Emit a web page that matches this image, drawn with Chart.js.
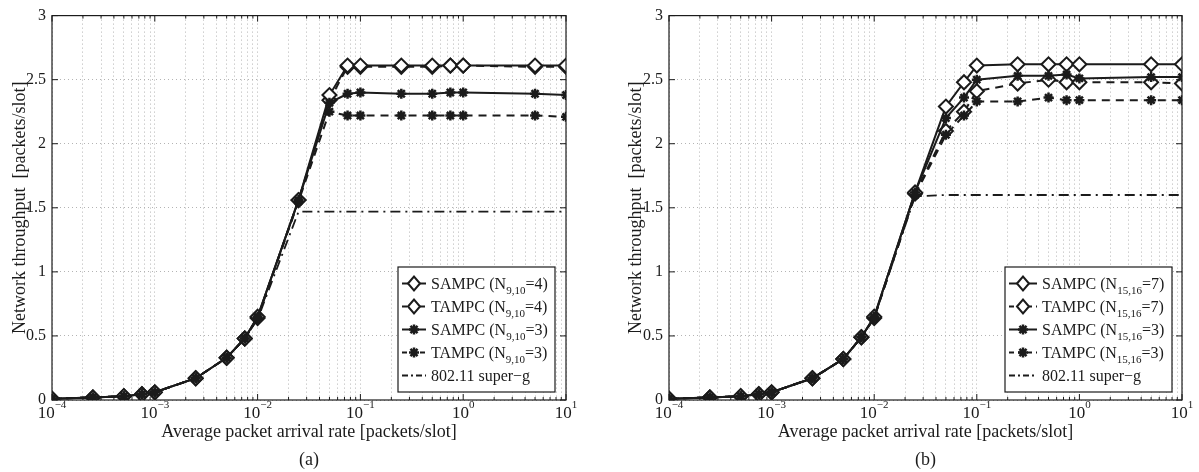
<!DOCTYPE html>
<html lang="en">
<head>
<meta charset="UTF-8">
<title>Network throughput vs packet arrival rate</title>
<style>
  body { margin: 0; background: #fff; }
  .panel { position: absolute; top: 0; height: 472px; }
  #panelA { left: 0; width: 600px; }
  #panelB { left: 600px; width: 599px; }
</style>
<script src="https://cdn.jsdelivr.net/npm/chart.js"></script>
</head>
<body>
<div class="panel" id="panelA"><canvas id="chartA" width="600" height="472"></canvas></div>
<div class="panel" id="panelB"><canvas id="chartB" width="599" height="472"></canvas></div>

<script>
  // average packet arrival rate [packets/slot]
  const rates = [1e-4, 2.5e-4, 5e-4, 7.5e-4, 1e-3, 2.5e-3, 5e-3, 7.5e-3, 1e-2, 2.5e-2,
                 5e-2, 7.5e-2, 1e-1, 2.5e-1, 5e-1, 7.5e-1, 1, 5, 10];

  // panel (a) - N9,10
  const sampc4A = [0.01, 0.02, 0.03, 0.045, 0.06, 0.17, 0.33, 0.48, 0.65, 1.56, 2.38, 2.61, 2.61, 2.61, 2.61, 2.61, 2.61, 2.61, 2.61];
  const tampc4A = [0.01, 0.02, 0.03, 0.045, 0.06, 0.17, 0.33, 0.48, 0.64, 1.56, 2.34, 2.60, 2.60, 2.60, 2.60, 2.61, 2.61, 2.60, 2.60];
  const sampc3A = [0.01, 0.02, 0.03, 0.045, 0.06, 0.17, 0.33, 0.48, 0.65, 1.56, 2.32, 2.39, 2.40, 2.39, 2.39, 2.40, 2.40, 2.39, 2.38];
  const tampc3A = [0.01, 0.02, 0.03, 0.045, 0.06, 0.17, 0.33, 0.48, 0.64, 1.55, 2.25, 2.22, 2.22, 2.22, 2.22, 2.22, 2.22, 2.22, 2.21];
  const supergA = [0.01, 0.02, 0.03, 0.045, 0.06, 0.17, 0.33, 0.48, 0.63, 1.47, 1.47, 1.47, 1.47, 1.47, 1.47, 1.47, 1.47, 1.47, 1.47];

  // panel (b) - N15,16
  const sampc7B = [0.01, 0.02, 0.03, 0.045, 0.06, 0.17, 0.32, 0.49, 0.65, 1.62, 2.29, 2.48, 2.61, 2.62, 2.62, 2.62, 2.62, 2.62, 2.62];
  const tampc7B = [0.01, 0.02, 0.03, 0.045, 0.06, 0.17, 0.32, 0.49, 0.64, 1.61, 2.10, 2.25, 2.41, 2.47, 2.50, 2.48, 2.48, 2.48, 2.47];
  const sampc3B = [0.01, 0.02, 0.03, 0.045, 0.06, 0.17, 0.32, 0.49, 0.65, 1.62, 2.20, 2.36, 2.50, 2.53, 2.53, 2.54, 2.51, 2.52, 2.52];
  const tampc3B = [0.01, 0.02, 0.03, 0.045, 0.06, 0.17, 0.32, 0.49, 0.64, 1.60, 2.07, 2.22, 2.33, 2.33, 2.36, 2.34, 2.34, 2.34, 2.34];
  const supergB = [0.01, 0.02, 0.03, 0.045, 0.06, 0.17, 0.32, 0.49, 0.64, 1.59, 1.60, 1.60, 1.60, 1.60, 1.60, 1.60, 1.60, 1.60, 1.60];

  const yTicks = [0, 0.5, 1, 1.5, 2, 2.5, 3];
  const xDecades = [-4, -3, -2, -1, 0, 1];

  const SERIF = '"Liberation Serif", "Times New Roman", serif';
  const INK = '#1b1b1b';

  // marker shapes for the hand drawn legend (same look as the plot points)
  function drawMarker(ctx, style, x, y) {
    ctx.save();
    ctx.strokeStyle = INK;
    ctx.setLineDash([]);
    if (style === 'rectRot') {
      ctx.lineWidth = 2;
      ctx.fillStyle = '#fff';
      ctx.beginPath();
      ctx.moveTo(x - 6, y); ctx.lineTo(x, y - 7); ctx.lineTo(x + 6, y); ctx.lineTo(x, y + 7);
      ctx.closePath();
      ctx.fill(); ctx.stroke();
    } else if (style === 'star') {
      ctx.lineWidth = 2.5;
      ctx.beginPath();
      for (let k = 0; k < 4; k++) {
        const a = k * Math.PI / 4;
        ctx.moveTo(x - 5 * Math.cos(a), y - 5 * Math.sin(a));
        ctx.lineTo(x + 5 * Math.cos(a), y + 5 * Math.sin(a));
      }
      ctx.stroke();
    }
    ctx.restore();
  }

  function makeSets(hiS, hiT, loS, loT, sg, sub, nHi, nLo) {
    const base = { borderColor: INK, pointBorderColor: INK, borderWidth: 2, tension: 0 };
    return [
      { ...base, label: 'SAMPC (N' + sub + '=' + nHi + ')', data: hiS, borderDash: [],
        pointStyle: 'rectRot', pointRadius: 7, pointBorderWidth: 2, pointBackgroundColor: '#fff', order: 2 },
      { ...base, label: 'TAMPC (N' + sub + '=' + nHi + ')', data: hiT, borderDash: [8, 6],
        pointStyle: 'rectRot', pointRadius: 7, pointBorderWidth: 2, pointBackgroundColor: '#fff', order: 3 },
      { ...base, label: 'SAMPC (N' + sub + '=' + nLo + ')', data: loS, borderDash: [],
        pointStyle: 'star', pointRadius: 5, pointBorderWidth: 2.5, pointBackgroundColor: INK, order: 0 },
      { ...base, label: 'TAMPC (N' + sub + '=' + nLo + ')', data: loT, borderDash: [8, 6],
        pointStyle: 'star', pointRadius: 5, pointBorderWidth: 2.5, pointBackgroundColor: INK, order: 1 },
      { ...base, label: '802.11 super\u2212g', data: sg, borderDash: [10, 5, 2, 5], borderWidth: 1.8,
        pointRadius: 0, order: 4 }
    ];
  }

  // frame, inward ticks, x labels with exponents, titles and legend
  const panelDecor = {
    id: 'panelDecor',
    afterDraw(chart, args, o) {
      const { ctx, chartArea: a, scales: { x, y } } = chart;
      ctx.save();
      ctx.strokeStyle = INK;
      ctx.fillStyle = INK;
      ctx.lineWidth = 1.2;
      ctx.setLineDash([]);
      ctx.strokeRect(a.left, a.top, a.right - a.left, a.bottom - a.top);

      // ticks
      ctx.lineWidth = 1;
      ctx.beginPath();
      x.ticks.forEach(t => {
        const px = x.getPixelForValue(t.value);
        const len = Math.abs(Math.log10(t.value) - Math.round(Math.log10(t.value))) < 1e-6 ? 6 : 3;
        ctx.moveTo(px, a.bottom); ctx.lineTo(px, a.bottom - len);
        ctx.moveTo(px, a.top); ctx.lineTo(px, a.top + len);
      });
      yTicks.forEach(v => {
        const py = y.getPixelForValue(v);
        ctx.moveTo(a.left, py); ctx.lineTo(a.left + 6, py);
        ctx.moveTo(a.right, py); ctx.lineTo(a.right - 6, py);
      });
      ctx.stroke();

      // x tick labels 10^n
      xDecades.forEach(e => {
        const px = x.getPixelForValue(Math.pow(10, e));
        const exp = e < 0 ? '\u2212' + (-e) : String(e);
        ctx.font = '17px ' + SERIF;
        const w1 = ctx.measureText('10').width;
        ctx.font = '11px ' + SERIF;
        const w2 = ctx.measureText(exp).width;
        const left = px - (w1 + w2) / 2;
        ctx.textAlign = 'left';
        ctx.textBaseline = 'alphabetic';
        ctx.font = '17px ' + SERIF;
        ctx.fillText('10', left, a.bottom + 18);
        ctx.font = '11px ' + SERIF;
        ctx.fillText(exp, left + w1, a.bottom + 8);
      });

      // axis titles and panel label
      ctx.font = '18px ' + SERIF;
      ctx.textAlign = 'center';
      ctx.fillText('Average packet arrival rate [packets/slot]', (a.left + a.right) / 2, a.bottom + 37);
      ctx.fillText(o.panel, (a.left + a.right) / 2, a.bottom + 65);
      ctx.save();
      ctx.translate(o.yTitleX, (a.top + a.bottom) / 2);
      ctx.rotate(-Math.PI / 2);
      ctx.textBaseline = 'middle';
      ctx.fillText('Network throughput  [packets/slot]', 0, 0);
      ctx.restore();

      // legend box
      const lg = o.legend;
      ctx.fillStyle = '#fff';
      ctx.fillRect(lg.left, lg.top, lg.right - lg.left, lg.bottom - lg.top);
      ctx.lineWidth = 1.2;
      ctx.strokeRect(lg.left, lg.top, lg.right - lg.left, lg.bottom - lg.top);
      const sets = chart.data.datasets;
      const rowH = (lg.bottom - lg.top - 10) / sets.length;
      sets.forEach((ds, i) => {
        const ry = lg.top + 5 + rowH * (i + 0.5);
        const x0 = lg.left + 4, x1 = lg.textX - 5;
        ctx.save();
        ctx.strokeStyle = INK;
        ctx.lineWidth = ds.borderWidth;
        const dash = ds.borderDash || [];
        ctx.setLineDash(dash.length === 2 ? [5, 4] : dash.length ? [6, 3, 2, 3] : []);
        ctx.beginPath();
        ctx.moveTo(x0, ry); ctx.lineTo(x1, ry);
        ctx.stroke();
        ctx.restore();
        if (ds.pointRadius) drawMarker(ctx, ds.pointStyle, (x0 + x1) / 2, ry);
        ctx.fillStyle = INK;
        ctx.textAlign = 'left';
        ctx.textBaseline = 'alphabetic';
        const m = ds.label.match(/^(.*\(N)([0-9,]+)(=.*)$/);
        let tx = lg.textX;
        if (m) {
          ctx.font = '16px ' + SERIF;
          ctx.fillText(m[1], tx, ry + 5); tx += ctx.measureText(m[1]).width;
          ctx.font = '11px ' + SERIF;
          ctx.fillText(m[2], tx, ry + 10); tx += ctx.measureText(m[2]).width;
          ctx.font = '16px ' + SERIF;
          ctx.fillText(m[3], tx, ry + 5);
        } else {
          ctx.font = '16px ' + SERIF;
          ctx.fillText(ds.label, tx, ry + 5);
        }
      });
      ctx.restore();
    }
  };

  function buildChart(id, sets, yWidth, padRight, deco) {
    const grid = { color: '#b4b4b4', lineWidth: 1, drawTicks: false };
    return new Chart(document.getElementById(id), {
      type: 'line',
      data: { labels: rates, datasets: sets.map(s => ({ ...s, data: s.data.map((v, i) => ({ x: rates[i], y: v })) })) },
      options: {
        responsive: false,
        animation: false,
        events: [],
        layout: { padding: { top: 12, right: padRight, left: 0, bottom: 0 } },
        plugins: { legend: { display: false }, tooltip: { enabled: false }, panelDecor: deco },
        scales: {
          x: {
            type: 'logarithmic', min: 1e-4, max: 10,
            grid, border: { display: false, dash: [1, 3] },
            ticks: { display: false },
            afterBuildTicks(scale) {
              const t = [];
              for (let e = -4; e <= 0; e++) for (let m = 1; m <= 9; m++) t.push({ value: m * Math.pow(10, e) });
              t.push({ value: 10 });
              scale.ticks = t;
            },
            afterFit(scale) { scale.height = 72; }
          },
          y: {
            min: 0, max: 3,
            grid, border: { display: false, dash: [1, 3] },
            ticks: { stepSize: 0.5, color: INK, padding: 6, font: { family: SERIF, size: 16 },
                     callback: v => String(v) },
            afterFit(scale) { scale.width = yWidth; }
          }
        }
      },
      plugins: [panelDecor]
    });
  }

  buildChart('chartA', makeSets(sampc4A, tampc4A, sampc3A, tampc3A, supergA, '9,10', 4, 3), 52, 34,
    { panel: '(a)', yTitleX: 20, legend: { left: 398, right: 555, top: 267, bottom: 392, textX: 431 } });

  buildChart('chartB', makeSets(sampc7B, tampc7B, sampc3B, tampc3B, supergB, '15,16', 7, 3), 69, 17,
    { panel: '(b)', yTitleX: 36, legend: { left: 405, right: 572, top: 267, bottom: 392, textX: 442 } });
</script>
</body>
</html>
